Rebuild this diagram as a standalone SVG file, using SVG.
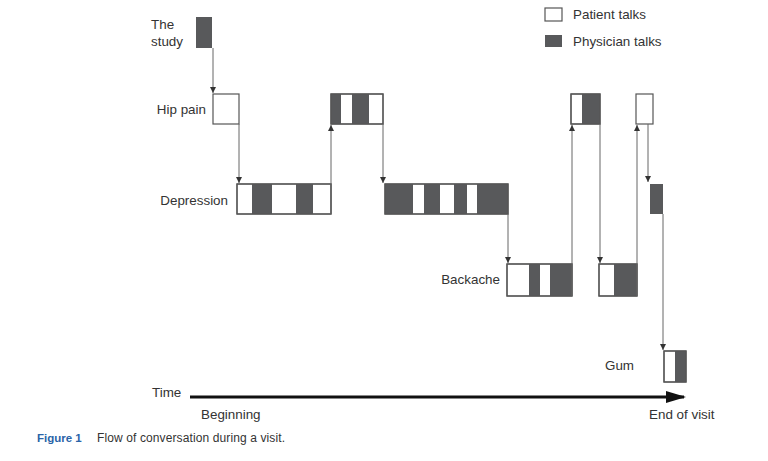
<svg xmlns="http://www.w3.org/2000/svg" width="768" height="461" viewBox="0 0 768 461">
<defs>
<marker id="ah" markerWidth="6" markerHeight="8" refX="6" refY="4" orient="auto" markerUnits="userSpaceOnUse">
<path d="M0,1 L6,4 L0,7 Z" fill="#333"/>
</marker>
<marker id="big" markerWidth="20" markerHeight="12" refX="18" refY="6" orient="auto" markerUnits="userSpaceOnUse">
<path d="M0,0 L20,6 L0,12 Z" fill="#111"/>
</marker>
</defs>
<style>
.w{fill:#fff;stroke:#555;stroke-width:1.2}
.d{fill:#58595b}
.o{fill:none;stroke:#555;stroke-width:1.2}
.c{stroke:#666;stroke-width:1;fill:none;marker-end:url(#ah)}
.t{font-family:"Liberation Sans",Arial,sans-serif;font-size:13.4px;fill:#333}
.cap{font-family:"Liberation Sans",Arial,sans-serif;font-size:12px;fill:#333}
</style>
<rect width="768" height="461" fill="#fff"/>

<g id="legend">
<rect x="545" y="8" width="17" height="13" class="w"/>
<text x="573" y="19" class="t">Patient talks</text>
<rect x="545" y="35" width="17" height="12" class="d"/>
<text x="573" y="46" class="t">Physician talks</text>
</g>

<g id="study">
<text x="151" y="29" class="t">The</text>
<text x="151" y="46" class="t">study</text>
<rect x="196" y="17" width="16" height="31" class="d"/>
</g>

<g id="hip1">
<text x="206" y="114" class="t" text-anchor="end">Hip pain</text>
<rect x="213" y="94" width="26" height="30" class="w"/>
</g>

<g id="dep1">
<text x="228" y="205" class="t" text-anchor="end">Depression</text>
<rect x="237" y="184" width="94" height="30" class="w"/>
<rect x="252" y="184" width="20" height="30" class="d"/>
<rect x="296" y="184" width="17" height="30" class="d"/>
<rect x="237" y="184" width="94" height="30" class="o"/>
</g>

<g id="hip2">
<rect x="331" y="94" width="52" height="30" class="w"/>
<rect x="331" y="94" width="10" height="30" class="d"/>
<rect x="352" y="94" width="17" height="30" class="d"/>
<rect x="331" y="94" width="52" height="30" class="o"/>
</g>

<g id="dep2">
<rect x="385" y="184" width="123" height="30" class="w"/>
<rect x="385" y="184" width="28" height="30" class="d"/>
<rect x="424" y="184" width="16" height="30" class="d"/>
<rect x="454" y="184" width="13" height="30" class="d"/>
<rect x="477" y="184" width="31" height="30" class="d"/>
<rect x="385" y="184" width="123" height="30" class="o"/>
</g>

<g id="back1">
<text x="500" y="284" class="t" text-anchor="end">Backache</text>
<rect x="507" y="264" width="65" height="32" class="w"/>
<rect x="529" y="264" width="11" height="32" class="d"/>
<rect x="550" y="264" width="22" height="32" class="d"/>
<rect x="507" y="264" width="65" height="32" class="o"/>
</g>

<g id="hip3">
<rect x="571" y="94" width="29" height="30" class="w"/>
<rect x="582" y="94" width="18" height="30" class="d"/>
<rect x="571" y="94" width="29" height="30" class="o"/>
</g>

<g id="back2">
<rect x="599" y="264" width="38" height="32" class="w"/>
<rect x="614" y="264" width="23" height="32" class="d"/>
<rect x="599" y="264" width="38" height="32" class="o"/>
</g>

<g id="hip4">
<rect x="636" y="94" width="17" height="30" class="w"/>
</g>

<g id="dep3">
<rect x="650" y="184" width="13" height="30" class="d"/>
</g>

<g id="gum">
<text x="634" y="370" class="t" text-anchor="end">Gum</text>
<rect x="664" y="351" width="22" height="31" class="w"/>
<rect x="675" y="351" width="11" height="31" class="d"/>
<rect x="664" y="351" width="22" height="31" class="o"/>
</g>

<g id="connectors">
<line x1="213" y1="48" x2="213" y2="93" class="c"/>
<line x1="239" y1="124" x2="239" y2="183" class="c"/>
<line x1="331" y1="214" x2="331" y2="125" class="c"/>
<line x1="383" y1="124" x2="383" y2="183" class="c"/>
<line x1="508" y1="214" x2="508" y2="263" class="c"/>
<line x1="572" y1="296" x2="572" y2="125" class="c"/>
<line x1="600" y1="124" x2="600" y2="263" class="c"/>
<line x1="637" y1="296" x2="637" y2="125" class="c"/>
<line x1="648" y1="124" x2="648" y2="182" class="c"/>
<line x1="663" y1="214" x2="663" y2="350" class="c"/>
</g>

<g id="timeline">
<text x="152" y="397" class="t">Time</text>
<line x1="190" y1="397" x2="684" y2="397" stroke="#111" stroke-width="3" marker-end="url(#big)"/>
<text x="201" y="419" class="t">Beginning</text>
<text x="649" y="419" class="t">End of visit</text>
</g>

<g id="caption">
<text x="37" y="442" class="cap" font-weight="bold" style="fill:#2a64a8;font-size:11.5px">Figure 1</text>
<text x="97" y="442" class="cap" textLength="188" lengthAdjust="spacing">Flow of conversation during a visit.</text>
</g>
</svg>
